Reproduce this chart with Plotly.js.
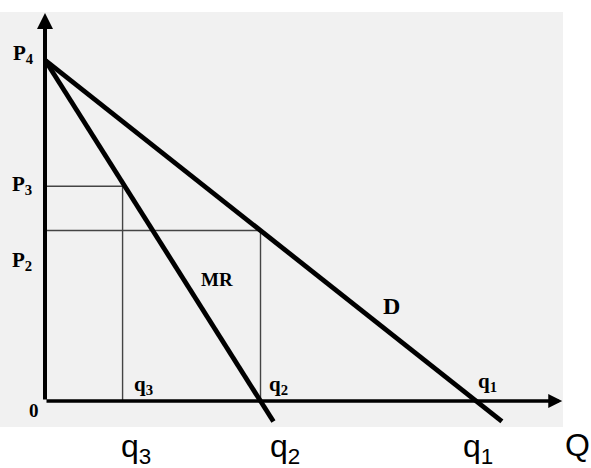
<!DOCTYPE html>
<html>
<head>
<meta charset="utf-8">
<script src="https://cdn.plot.ly/plotly-3.0.1.min.js"></script>
<style>html,body{margin:0;padding:0;background:#fff;}#chart{width:591px;height:468px;}</style>
</head>
<body>
<div id="chart"></div>
<script>
// ---- data ----
const qNames = ['q<sub>3</sub>', 'q<sub>2</sub>', 'q<sub>1</sub>'];
const qValues = [1.8, 5, 10];
const pNames = ['P<sub>2</sub>', 'P<sub>3</sub>', 'P<sub>4</sub>'];
const pValues = [5, 6.3, 10];
const demandQ = [0, 10.6];
const demandP = [10, -0.6];
const mrQ = [0, 5.3];
const mrP = [10, -0.6];
const axisQmax = 12.0;
const axisPmax = 11.38;
const curveLabels = ['MR', 'D'];

// ---- helpers ----
const q3 = qValues[0], q2 = qValues[1], q1 = qValues[2];
const P2 = pValues[0], P3 = pValues[1], P4 = pValues[2];

const guide = {color: '#444', width: 1.4};
const thick = {color: '#000', width: 4.8};

const traces = [
  {x: [0, q3, q3], y: [P3, P3, 0], mode: 'lines', line: guide},
  {x: [0, q2, q2], y: [P2, P2, 0], mode: 'lines', line: guide},
  {x: demandQ, y: demandP, mode: 'lines', line: thick},
  {x: mrQ, y: mrP, mode: 'lines', line: thick}
];

const serif = {family: 'Liberation Serif, Times New Roman, serif', color: '#000'};
function lab(text, x, y, size, xs, ys) {
  return {text: '<b>' + text + '</b>', x: x, y: y, xref: 'x', yref: 'y',
    showarrow: false, xanchor: 'center', yanchor: 'middle', xshift: xs, yshift: ys,
    font: Object.assign({size: size}, serif)};
}

const annotations = [
  {x: axisQmax, y: 0, ax: 0, ay: 0, xref: 'x', yref: 'y', axref: 'x', ayref: 'y',
   showarrow: true, arrowhead: 2, arrowsize: 0.8, arrowwidth: 3.5, arrowcolor: '#000', text: ''},
  {x: 0, y: axisPmax, ax: 0, ay: 0, xref: 'x', yref: 'y', axref: 'x', ayref: 'y',
   showarrow: true, arrowhead: 2, arrowsize: 0.8, arrowwidth: 4, arrowcolor: '#000', text: ''},
  lab(pNames[2], 0, P4, 21, -22, 6),
  lab(pNames[1], 0, P3, 21, -23, 1),
  lab(pNames[0], 0, P2, 21, -23, -30),
  lab('0', 0, 0, 19, -11, -9),
  lab(qNames[0], q3, 0, 21, 21, 16),
  lab(qNames[1], q2, 0, 21, 18, 16),
  lab(qNames[2], q1, 0, 21, 11, 19),
  lab(curveLabels[0], 3.99, 3.55, 19, 0, 0),
  lab(curveLabels[1], 8.05, 2.79, 24, 0, 0)
];

const sans = {family: 'Liberation Sans, Arial, sans-serif', size: 32, color: '#000'};
const bottomShift = [13, 24, 2];
qValues.forEach(function (v, i) {
  annotations.push({text: qNames[i], x: v, y: -0.762, xref: 'x', yref: 'y', showarrow: false,
    xanchor: 'center', yanchor: 'top', xshift: bottomShift[i], yshift: 1, font: sans});
});
annotations.push({text: 'Q', x: axisQmax, y: -0.762, xref: 'x', yref: 'y', showarrow: false,
  xanchor: 'center', yanchor: 'top', xshift: 15, yshift: 2, font: sans});

const hidden = {showgrid: false, zeroline: false, showticklabels: false, ticks: '', showline: false, fixedrange: true};

const layout = {
  width: 591, height: 468,
  margin: {l: 0, r: 28, t: 12, b: 41, pad: 0},
  paper_bgcolor: '#ffffff',
  plot_bgcolor: '#f1f1f1',
  showlegend: false,
  xaxis: Object.assign({range: [-1.044, 12.018]}, hidden),
  yaxis: Object.assign({range: [-0.762, 11.408]}, hidden),
  annotations: annotations
};

Plotly.newPlot('chart', traces, layout, {staticPlot: true, displayModeBar: false});
</script>
</body>
</html>
